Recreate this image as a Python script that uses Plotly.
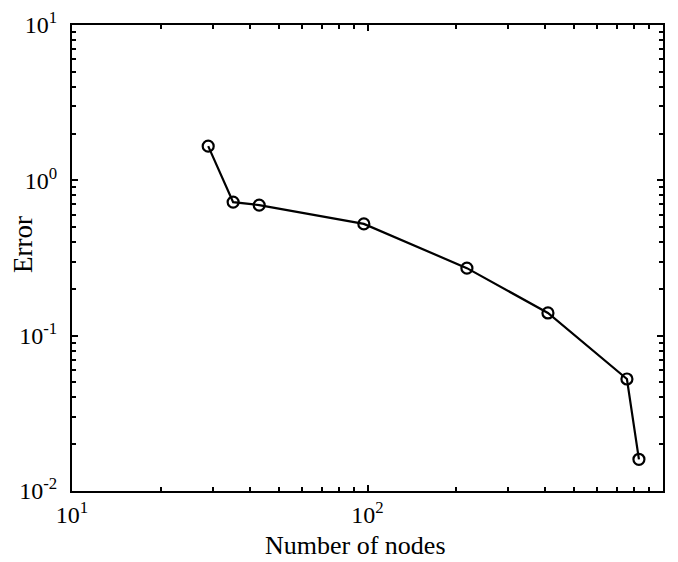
import plotly.graph_objects as go

nodes = [28.9, 35.1, 43.0, 97.2, 217, 408, 755, 829]
error = [1.66, 0.724, 0.693, 0.524, 0.272, 0.140, 0.0526, 0.0160]

x_tickvals = [10, 100, 1000]
x_ticktext = ["10<sup>1</sup>", "10<sup>2</sup>", "10<sup>3</sup>"]
y_tickvals = [0.01, 0.1, 1, 10]
y_ticktext = ["10<sup>-2</sup>", "10<sup>-1</sup>", "10<sup>0</sup>", "10<sup>1</sup>"]

x_minor = [m * d for d in (10, 100) for m in range(2, 10)]
y_minor = [m * d for d in (0.01, 0.1, 1) for m in range(2, 10)]

x_title = "Number of nodes"
y_title = "Error"

fig = go.Figure()
fig.add_trace(go.Scatter(
    x=nodes, y=error, mode="lines+markers",
    line=dict(color="black", width=2.2),
    marker=dict(symbol="circle-open", size=11, color="black", line=dict(width=2.2)),
    showlegend=False,
))

font = dict(family="Liberation Serif, Times New Roman, serif", color="black")

fig.update_layout(
    width=678, height=562,
    margin=dict(l=72, r=15, t=25, b=71, autoexpand=False),
    paper_bgcolor="white", plot_bgcolor="white",
    font=dict(**font, size=24),
    xaxis=dict(
        type="log", range=[1, 3], automargin=False,
        tickvals=x_tickvals, ticktext=x_ticktext,
        ticks="inside", ticklen=6, tickwidth=1.5, tickcolor="black",
        minor=dict(tickmode="array", tickvals=x_minor, ticks="inside", ticklen=4,
                   tickwidth=1.5, tickcolor="black", showgrid=False),
        showline=True, linecolor="black", linewidth=2, mirror="allticks",
        showgrid=False, zeroline=False,
        tickfont=dict(**font, size=24),
        ticklabelstandoff=1,
    ),
    yaxis=dict(
        type="log", range=[-2, 1], automargin=False,
        tickvals=y_tickvals, ticktext=y_ticktext,
        ticks="inside", ticklen=6, tickwidth=1.5, tickcolor="black",
        minor=dict(tickmode="array", tickvals=y_minor, ticks="inside", ticklen=4,
                   tickwidth=1.5, tickcolor="black", showgrid=False),
        showline=True, linecolor="black", linewidth=2, mirror="allticks",
        showgrid=False, zeroline=False,
        tickfont=dict(**font, size=24),
        ticklabelstandoff=8,
    ),
    annotations=[
        dict(text=x_title, xref="paper", yref="paper", x=0.48, y=-0.117,
             xanchor="center", yanchor="middle", showarrow=False,
             font=dict(**font, size=26)),
        dict(text=y_title, xref="paper", yref="paper", x=-0.083, y=0.53,
             xanchor="center", yanchor="middle", textangle=-90, showarrow=False,
             font=dict(**font, size=27)),
    ],
)

fig.write_html("out.html")
